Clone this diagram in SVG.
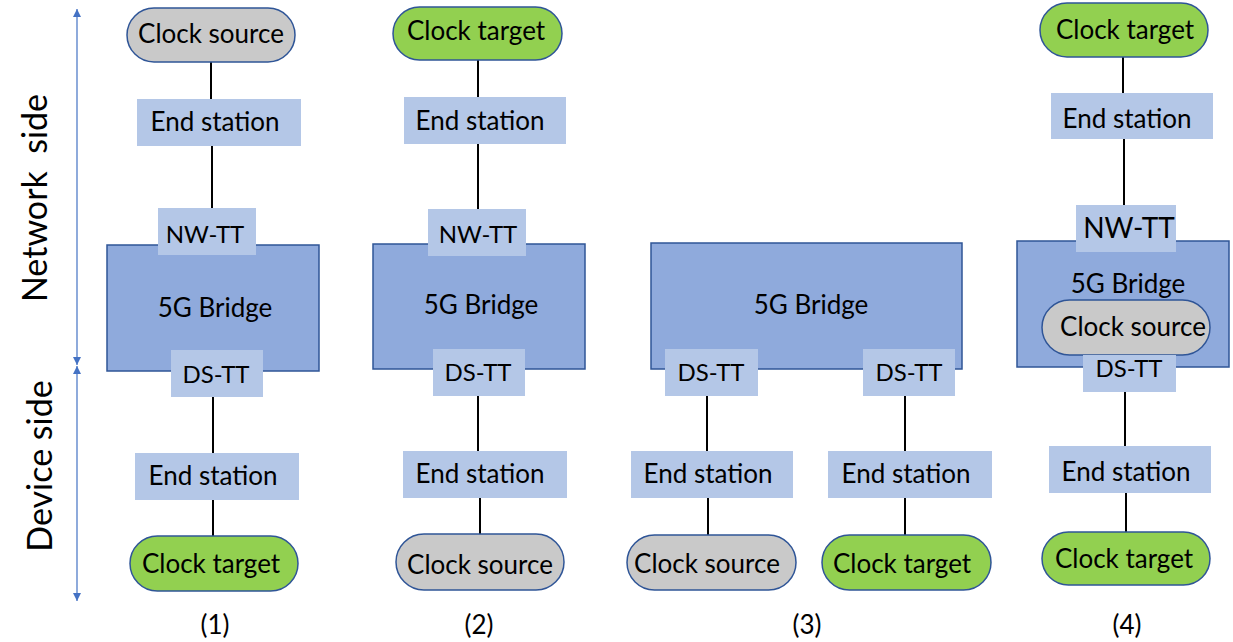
<svg xmlns="http://www.w3.org/2000/svg" width="1233" height="642" viewBox="0 0 1233 642">
  <style>
    text { font-family: Lato, "Open Sans", "Liberation Sans", sans-serif; font-size: 26px; fill: #000; text-anchor: middle; }
    .tt { font-size: 24px; }
    .num { font-size: 26px; }
    .side { font-size: 34px; }
    .src { fill: #c9c9c9; stroke: #2f5597; stroke-width: 1.5; }
    .tgt { fill: #92d050; stroke: #2f5597; stroke-width: 1.5; }
    .box { fill: #b4c7e7; }
    .bridge { fill: #8faadc; stroke: #2f5597; stroke-width: 1.5; }
    .link { stroke: #000; stroke-width: 2; fill: none; }
    .axis { stroke: #4472c4; stroke-width: 1.2; fill: none; }
  </style>
  <defs>
    <marker id="tri" viewBox="0 0 10 10" refX="10" refY="5" markerWidth="9" markerHeight="8" markerUnits="userSpaceOnUse" orient="auto-start-reverse">
      <path d="M0,0 L10,5 L0,10 Z" fill="#4472c4"/>
    </marker>
  </defs>

  <!-- side axis -->
  <g id="axis">
    <line class="axis" x1="77" y1="9" x2="77" y2="365" marker-start="url(#tri)" marker-end="url(#tri)"/>
    <line class="axis" x1="77" y1="366" x2="77" y2="601" marker-start="url(#tri)" marker-end="url(#tri)"/>
    <text class="side" transform="translate(47,198) rotate(-90)">Network&#160; side</text>
    <text class="side" transform="translate(52,466) rotate(-90)">Device side</text>
  </g>

  <!-- connectors -->
  <g id="connectors">
    <line class="link" x1="211" y1="62" x2="211" y2="99"/>
    <line class="link" x1="212" y1="146" x2="212" y2="208"/>
    <line class="link" x1="213" y1="397" x2="213" y2="453"/>
    <line class="link" x1="213" y1="500" x2="213" y2="536"/>

    <line class="link" x1="478" y1="60" x2="478" y2="97"/>
    <line class="link" x1="478" y1="144" x2="478" y2="209"/>
    <line class="link" x1="478" y1="396" x2="478" y2="451"/>
    <line class="link" x1="480" y1="498" x2="480" y2="534"/>

    <line class="link" x1="707" y1="396" x2="707" y2="451"/>
    <line class="link" x1="905" y1="396" x2="905" y2="451"/>
    <line class="link" x1="708" y1="498" x2="708" y2="535"/>
    <line class="link" x1="905" y1="498" x2="905" y2="535"/>

    <line class="link" x1="1123" y1="57" x2="1123" y2="93"/>
    <line class="link" x1="1124" y1="139" x2="1124" y2="205"/>
    <line class="link" x1="1125" y1="392" x2="1125" y2="446"/>
    <line class="link" x1="1126" y1="493" x2="1126" y2="532"/>
  </g>

  <!-- case (1) -->
  <g id="c1-source"><rect class="src" x="127" y="8" width="168" height="54" rx="27"/><text x="211" y="43">Clock source</text></g>
  <g id="c1-end-top"><rect class="box" x="137" y="99" width="164" height="47"/><text x="215" y="131">End station</text></g>
  <g id="c1-bridge"><rect class="bridge" x="107" y="245" width="212" height="126"/><text x="215" y="317">5G Bridge</text></g>
  <g id="c1-nwtt"><rect class="box" x="158" y="208" width="98" height="47"/><text class="tt" x="205" y="243">NW-TT</text></g>
  <g id="c1-dstt"><rect class="box" x="171" y="350" width="92" height="47"/><text class="tt" x="216" y="383">DS-TT</text></g>
  <g id="c1-end-bottom"><rect class="box" x="135" y="453" width="164" height="47"/><text x="213" y="485">End station</text></g>
  <g id="c1-target"><rect class="tgt" x="130" y="536" width="168" height="55" rx="27.5"/><text x="211" y="573">Clock target</text></g>
  <text class="num" x="215" y="634">(1)</text>

  <!-- case (2) -->
  <g id="c2-target"><rect class="tgt" x="393" y="7" width="169" height="53" rx="26.5"/><text x="476" y="40">Clock target</text></g>
  <g id="c2-end-top"><rect class="box" x="404" y="97" width="162" height="47"/><text x="480" y="130">End station</text></g>
  <g id="c2-bridge"><rect class="bridge" x="373" y="244" width="212" height="125"/><text x="481" y="314">5G Bridge</text></g>
  <g id="c2-nwtt"><rect class="box" x="428" y="209" width="98" height="47"/><text class="tt" x="478" y="243">NW-TT</text></g>
  <g id="c2-dstt"><rect class="box" x="433" y="349" width="92" height="47"/><text class="tt" x="478" y="381">DS-TT</text></g>
  <g id="c2-end-bottom"><rect class="box" x="403" y="451" width="164" height="47"/><text x="480" y="483">End station</text></g>
  <g id="c2-source"><rect class="src" x="396" y="534" width="168" height="56" rx="28"/><text x="480" y="574">Clock source</text></g>
  <text class="num" x="479" y="634">(2)</text>

  <!-- case (3) -->
  <g id="c3-bridge"><rect class="bridge" x="651" y="243" width="311" height="126"/><text x="811" y="314">5G Bridge</text></g>
  <g id="c3-dstt-left"><rect class="box" x="665" y="349" width="93" height="47"/><text class="tt" x="711" y="381">DS-TT</text></g>
  <g id="c3-dstt-right"><rect class="box" x="863" y="349" width="92" height="47"/><text class="tt" x="909" y="381">DS-TT</text></g>
  <g id="c3-end-left"><rect class="box" x="631" y="451" width="162" height="47"/><text x="708" y="483">End station</text></g>
  <g id="c3-end-right"><rect class="box" x="828" y="451" width="164" height="47"/><text x="906" y="483">End station</text></g>
  <g id="c3-source"><rect class="src" x="627" y="535" width="169" height="55" rx="27.5"/><text x="707" y="573">Clock source</text></g>
  <g id="c3-target"><rect class="tgt" x="822" y="535" width="169" height="55" rx="27.5"/><text x="902" y="573">Clock target</text></g>
  <text class="num" x="807" y="634">(3)</text>

  <!-- case (4) -->
  <g id="c4-target-top"><rect class="tgt" x="1040" y="3" width="168" height="54" rx="27"/><text x="1125" y="39">Clock target</text></g>
  <g id="c4-end-top"><rect class="box" x="1051" y="93" width="162" height="46"/><text x="1127" y="128">End station</text></g>
  <g id="c4-bridge"><rect class="bridge" x="1017" y="241" width="212" height="126"/><text x="1128" y="293">5G Bridge</text></g>
  <g id="c4-nwtt"><rect class="box" x="1076" y="205" width="100" height="47"/><text x="1129" y="238" style="font-size:28px">NW-TT</text></g>
  <g id="c4-source"><rect class="src" x="1042" y="300" width="168" height="55" rx="27.5"/><text x="1133" y="336">Clock source</text></g>
  <g id="c4-dstt"><rect class="box" x="1083" y="355" width="93" height="37"/><text class="tt" x="1129" y="377">DS-TT</text></g>
  <g id="c4-end-bottom"><rect class="box" x="1049" y="446" width="162" height="47"/><text x="1126" y="481">End station</text></g>
  <g id="c4-target-bottom"><rect class="tgt" x="1042" y="532" width="168" height="53" rx="26.5"/><text x="1124" y="568">Clock target</text></g>
  <text class="num" x="1127" y="634">(4)</text>
</svg>
